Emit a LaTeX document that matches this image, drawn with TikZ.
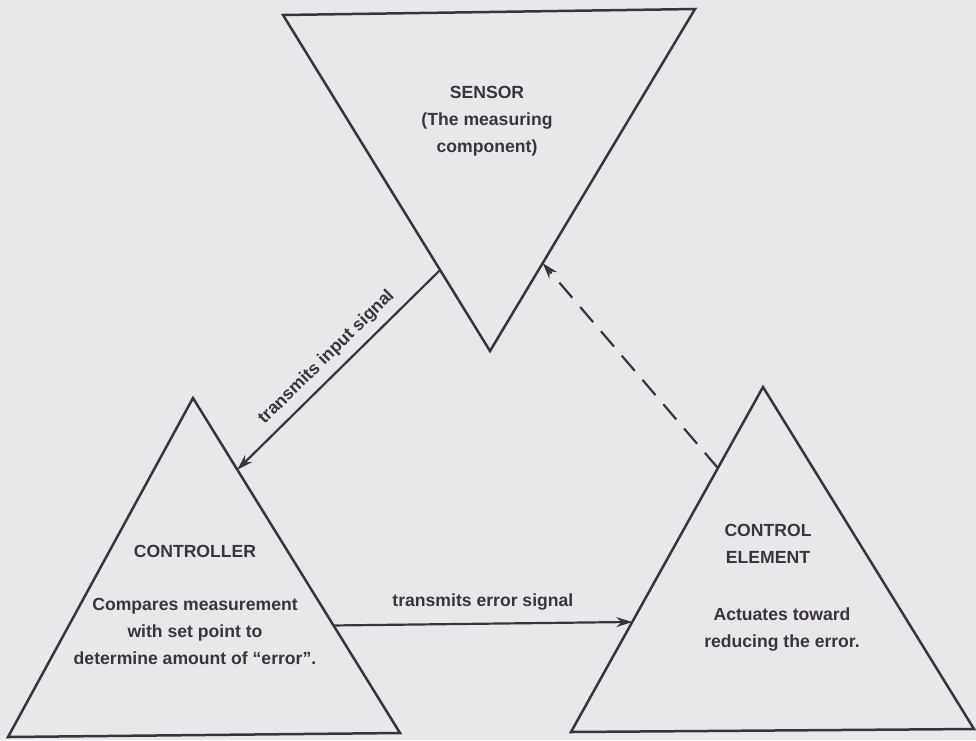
\documentclass[tikz,border=0pt]{standalone}
\usepackage{fontspec}
\setmainfont{Liberation Sans}
\usetikzlibrary{calc,arrows.meta}

\definecolor{paper}{HTML}{E8E8EA}
\definecolor{ink}{HTML}{3B3440}

\begin{document}
\begin{tikzpicture}[x=1pt,y=-1pt,
  edge/.style={draw=ink,line width=2.5pt,line join=miter},
  link/.style={draw=ink,line width=2.2pt,-{Stealth[length=16pt,width=10pt]}},
  dashlink/.style={link,dash pattern=on 20pt off 12pt},
  label/.style={text=ink,font=\fontsize{17.6}{27}\selectfont\bfseries,align=center,inner sep=0pt}]

\fill[paper] (0,0) rectangle (976,740);
\useasboundingbox (0,0) rectangle (976,740);

% corners of the three triangles
\coordinate (sTL) at (283,15);
\coordinate (sTR) at (695,9);
\coordinate (sB)  at (490,351);
\coordinate (cT)  at (193,398);
\coordinate (cBL) at (8,737);
\coordinate (cBR) at (400,733);
\coordinate (eT)  at (763,387);
\coordinate (eBL) at (571,732);
\coordinate (eBR) at (974,729);

\draw[edge] (sTL) -- (sTR) -- (sB) -- cycle;
\draw[edge] (cT) -- (cBR) -- (cBL) -- cycle;
\draw[edge] (eT) -- (eBR) -- (eBL) -- cycle;

% attachment points on the triangle sides
\coordinate (inS)  at ($(sTL)!0.759!(sB)$);
\coordinate (inC)  at ($(cT)!0.214!(cBR)$);
\coordinate (errC) at ($(cT)!0.679!(cBR)$);
\coordinate (errE) at ($(eT)!0.681!(eBL)$);
\coordinate (fbE)  at ($(eT)!0.235!(eBL)$);
\coordinate (fbS)  at ($(sTR)!0.743!(sB)$);

\draw[link] (inS) -- node[label,sloped,above=8pt] {transmits input signal} (inC);
\draw[link] (errC) -- node[label,above=12pt] {transmits error signal} (errE);
\draw[dashlink] (fbE) -- (fbS);

% texts
\node[label] (sensor) at (487,121) {SENSOR\\(The measuring\\component)};
\node[label] (ctrl) at (195,551) {CONTROLLER};
\node[label] (ctrlnote) at (195,631) {Compares measurement\\with set point to\\determine amount of “error”.};
\node[label] (elem) at (768,544) {CONTROL\\ELEMENT};
\node[label] (elemnote) at (782,629) {Actuates toward\\reducing the error.};
\end{tikzpicture}
\end{document}
